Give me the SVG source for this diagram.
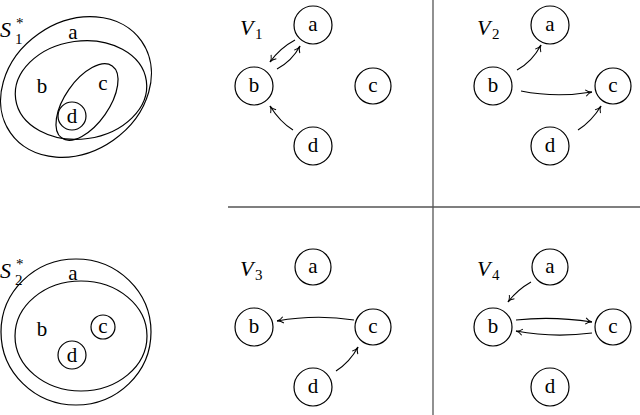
<svg xmlns="http://www.w3.org/2000/svg" width="640" height="415" viewBox="0 0 640 415">
<style>
.n{fill:none;stroke:#000;stroke-width:1.2}
.t{font-family:"Liberation Serif","DejaVu Serif",serif;font-size:21px;text-anchor:middle;dominant-baseline:central}
.lab{font-family:"Liberation Serif","DejaVu Serif",serif;font-size:22px;font-style:italic}
.sub{font-family:"Liberation Serif","DejaVu Serif",serif;font-size:15px}
.e{fill:none;stroke:#000;stroke-width:1.1;marker-end:url(#ah)}
</style>
<defs><marker id="ah" viewBox="0 0 10 10" refX="9" refY="5" markerWidth="8" markerHeight="8" markerUnits="userSpaceOnUse" orient="auto"><path d="M1,1 Q5,5 9,5 Q5,5 1,9" fill="none" stroke="#000" stroke-width="1.2"/></marker></defs>
<g id="grid" stroke="#555" stroke-width="1.3"><line x1="433" y1="0" x2="433" y2="415"/><line x1="228" y1="207" x2="640" y2="207"/></g>
<g id="S1">
<ellipse class="n" cx="76" cy="87" rx="80" ry="65" transform="rotate(-35 76 87)"/>
<ellipse class="n" cx="81" cy="90" rx="66" ry="49" transform="rotate(-8 81 90)"/>
<ellipse class="n" cx="87" cy="102" rx="44" ry="22" transform="rotate(-55 87 102)"/>
<circle class="n" cx="72" cy="116" r="14"/>
<text x="0" y="37" class="lab">S</text><text x="15" y="44" class="sub">1</text><text x="16" y="28" class="sub">*</text>
<text class="t" x="73" y="32">a</text><text class="t" x="42" y="86">b</text><text class="t" x="103" y="83">c</text><text class="t" x="72" y="116">d</text>
</g>
<g id="S2">
<ellipse class="n" cx="76" cy="332" rx="75" ry="73"/>
<ellipse class="n" cx="81" cy="336" rx="66" ry="55"/>
<circle class="n" cx="103" cy="327" r="12"/>
<circle class="n" cx="72" cy="355" r="14"/>
<text x="0" y="278" class="lab">S</text><text x="15" y="285" class="sub">2</text><text x="16" y="269" class="sub">*</text>
<text class="t" x="73" y="273">a</text><text class="t" x="42" y="329">b</text><text class="t" x="103" y="326">c</text><text class="t" x="72" y="355">d</text>
</g>
<g id="nodes">
<text x="240" y="35" class="lab">V</text><text x="255" y="39" class="sub">1</text>
<text x="477" y="35" class="lab">V</text><text x="492" y="39" class="sub">2</text>
<text x="240" y="276" class="lab">V</text><text x="255" y="280" class="sub">3</text>
<text x="477" y="276" class="lab">V</text><text x="492" y="280" class="sub">4</text>
<g id="v1a"><circle class="n" cx="313" cy="25" r="19"/><text class="t" x="313" y="24">a</text></g>
<g id="v1b"><circle class="n" cx="254" cy="86" r="19"/><text class="t" x="254" y="85">b</text></g>
<g id="v1c"><circle class="n" cx="373" cy="86" r="18"/><text class="t" x="373" y="85">c</text></g>
<g id="v1d"><circle class="n" cx="313" cy="146" r="19"/><text class="t" x="313" y="145">d</text></g>
<g id="v2a"><circle class="n" cx="550" cy="25" r="19"/><text class="t" x="550" y="24">a</text></g>
<g id="v2b"><circle class="n" cx="493" cy="86" r="19"/><text class="t" x="493" y="85">b</text></g>
<g id="v2c"><circle class="n" cx="613" cy="86" r="18"/><text class="t" x="613" y="85">c</text></g>
<g id="v2d"><circle class="n" cx="550" cy="146" r="19"/><text class="t" x="550" y="145">d</text></g>
<g id="v3a"><circle class="n" cx="313" cy="267" r="18"/><text class="t" x="313" y="266">a</text></g>
<g id="v3b"><circle class="n" cx="254" cy="327" r="19"/><text class="t" x="254" y="326">b</text></g>
<g id="v3c"><circle class="n" cx="373" cy="327" r="18"/><text class="t" x="373" y="326">c</text></g>
<g id="v3d"><circle class="n" cx="313" cy="387" r="19"/><text class="t" x="313" y="386">d</text></g>
<g id="v4a"><circle class="n" cx="550" cy="267" r="18"/><text class="t" x="550" y="266">a</text></g>
<g id="v4b"><circle class="n" cx="493" cy="327" r="19"/><text class="t" x="493" y="326">b</text></g>
<g id="v4c"><circle class="n" cx="613" cy="327" r="18"/><text class="t" x="613" y="326">c</text></g>
<g id="v4d"><circle class="n" cx="550" cy="387" r="19"/><text class="t" x="550" y="386">d</text></g>
</g>
<g id="connectors">
<path class="e" d="M295,40 Q280,48 270,62"/>
<path class="e" d="M277,69 Q292,61 300,46"/>
<path class="e" d="M293,130 Q280,122 270,106"/>
<path class="e" d="M517,70 Q532,62 541,45"/>
<path class="e" d="M521,91 Q556,98 592,92"/>
<path class="e" d="M578,130 Q592,121 601,106"/>
<path class="e" d="M354,320 Q316,314 277,321"/>
<path class="e" d="M336,371 Q350,362 358,347"/>
<path class="e" d="M531,282 Q517,290 508,302"/>
<path class="e" d="M516,320 Q553,316 592,322"/>
<path class="e" d="M592,333 Q553,338 516,331"/>
</g>
</svg>
